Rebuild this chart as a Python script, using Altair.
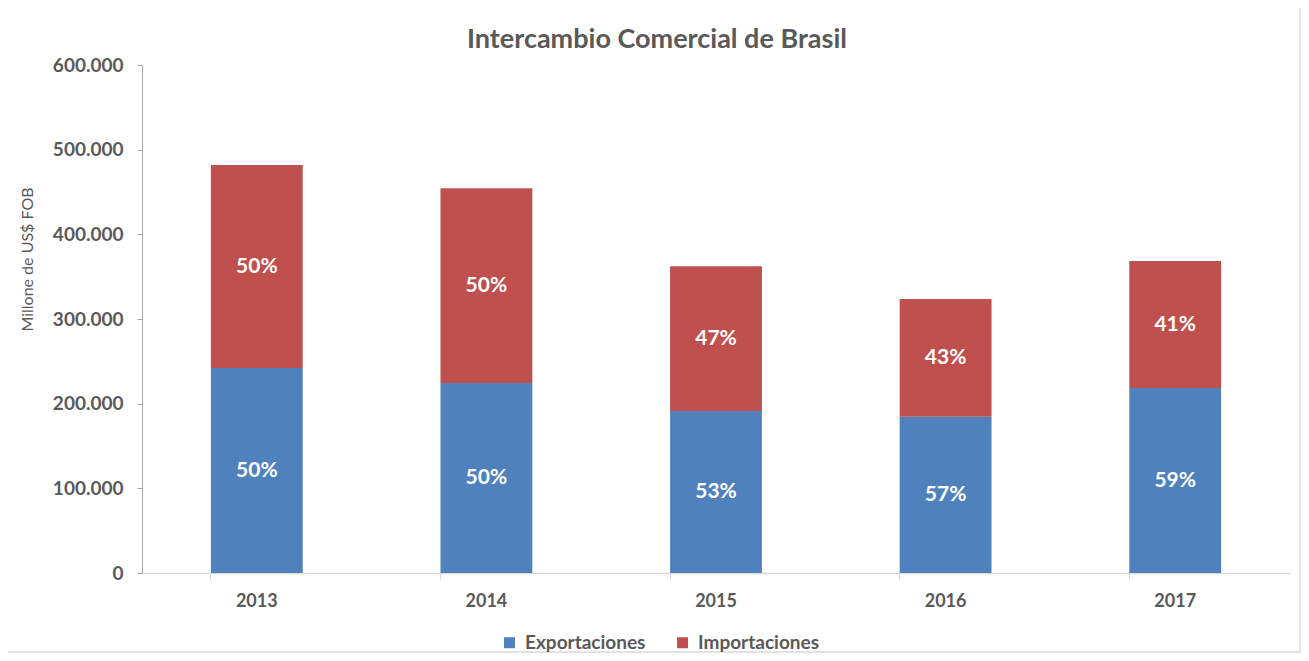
import altair as alt
import pandas as pd

years = ["2013", "2014", "2015", "2016", "2017"]
exportaciones = [242000, 224500, 191300, 184500, 218500]
importaciones = [240000, 230000, 171000, 139000, 150000]
pct_export = ["50%", "50%", "53%", "57%", "59%"]
pct_import = ["50%", "50%", "47%", "43%", "41%"]
series = ["Exportaciones", "Importaciones"]
colors = ["#4F81BD", "#C0504D"]

rows = []
for i, y in enumerate(years):
    rows.append({"year": y, "serie": series[0], "value": exportaciones[i], "pct": pct_export[i], "ord": 0})
    rows.append({"year": y, "serie": series[1], "value": importaciones[i], "pct": pct_import[i], "ord": 1})
df = pd.DataFrame(rows)

FONT = "Lato"
GREY = "#595959"

x_enc = alt.X("year:N", sort=years, title=None,
              scale=alt.Scale(paddingInner=0.6, paddingOuter=0.3),
              axis=alt.Axis(labelAngle=0, labelFont=FONT, labelFontSize=18, labelFontWeight="bold",
                            labelColor=GREY, labelPadding=13, bandPosition=0, tickSize=6,
                            domainColor="#d9d9d9", tickColor="#d9d9d9", domainWidth=1.5, ticks=True))

bars = alt.Chart(df).mark_bar().encode(
    x=x_enc,
    y=alt.Y("value:Q", stack="zero",
            scale=alt.Scale(domain=[0, 600000], nice=False),
            axis=alt.Axis(values=[0, 100000, 200000, 300000, 400000, 500000, 600000],
                          labelExpr="replace(format(datum.value, ','), regexp(',', 'g'), '.')",
                          labelFont=FONT, labelFontSize=19, labelFontWeight="bold", labelColor=GREY,
                          labelPadding=14, tickSize=5, grid=False,
                          domainColor="#a6a6a6", tickColor="#a6a6a6",
                          title="Millone de US$ FOB", titleFont=FONT, titleFontSize=16,
                          titleFontWeight="normal", titleColor=GREY,
                          titleX=-115, titleY=194, titleAngle=-90, titleBaseline="middle")),
    color=alt.Color("serie:N", scale=alt.Scale(domain=series, range=colors),
                    legend=alt.Legend(title=None, orient="none", direction="horizontal",
                                      legendX=358, legendY=568, symbolType="square",
                                      symbolSize=120, symbolStrokeWidth=0,
                                      labelFont=FONT, labelFontSize=19, labelColor=GREY,
                                      labelFontWeight="bold",
                                      columnPadding=27, labelOffset=6)),
    order=alt.Order("ord:Q"),
)

labels = alt.Chart(df).transform_window(
    cum="sum(value)", groupby=["year"], sort=[alt.SortField("ord")]
).transform_calculate(
    mid="datum.cum - datum.value / 2"
).mark_text(font=FONT, fontSize=21, fontWeight="bold", color="white", baseline="middle").encode(
    x=alt.X("year:N", sort=years),
    y=alt.Y("mid:Q"),
    text="pct:N",
)

border = alt.Chart(pd.DataFrame({"a": [0]})).mark_rect(
    fill=None, stroke="#d9d9d9", strokeWidth=1.5
).encode(
    x=alt.value(-137), x2=alt.value(1158), y=alt.value(-61), y2=alt.value(587)
)

chart = alt.layer(bars, labels, border).properties(
    width=1148, height=508,
    autosize=alt.AutoSizeParams(type="none"),
    padding={"left": 134, "top": 57, "right": 11, "bottom": 80},
    title=alt.TitleParams("Intercambio Comercial de Brasil", font=FONT, fontSize=27,
                          fontWeight="bold", color=GREY, anchor="middle", dx=-59, dy=65, offset=14),
).configure_view(stroke=None).configure_axis(grid=False)

chart.save("out.html", embed_options={"renderer": "svg", "actions": False})
